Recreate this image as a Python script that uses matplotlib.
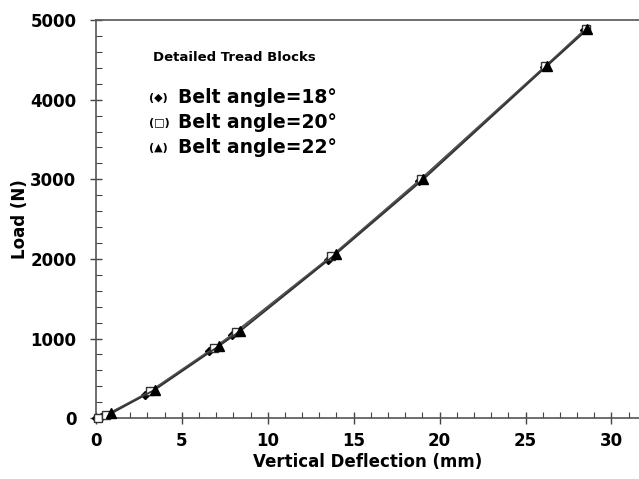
import numpy as np
import matplotlib.pyplot as plt
from matplotlib.ticker import MultipleLocator

# Vertical deflection (mm) and load (N) for each belt angle
x18 = [0.0, 0.3, 2.85, 6.6, 7.9, 13.5, 18.8, 26.1, 28.4]
y18 = [0, 10, 290, 845, 1040, 1990, 2980, 4410, 4870]
x20 = [0.1, 0.6, 3.15, 6.9, 8.15, 13.7, 18.9, 26.15, 28.5]
y20 = [5, 40, 335, 880, 1085, 2035, 3000, 4420, 4885]
x22 = [0.9, 3.45, 7.15, 8.4, 13.95, 19.05, 26.25, 28.6]
y22 = [60, 360, 905, 1095, 2060, 3000, 4425, 4885]

fig = plt.figure(figsize=(6.39, 4.79), dpi=100)
ax = fig.add_axes([0.150, 0.127, 0.850, 0.831])

ax.plot(x18, y18, color='#555555', lw=1.3, marker='D', ms=4.5, mfc='black', mec='black', clip_on=False, zorder=3)
ax.plot(x20, y20, color='#555555', lw=1.3, marker='s', ms=6, mfc='white', mec='#333333', clip_on=False, zorder=3)
ax.plot(x22, y22, color='#333333', lw=1.3, marker='^', ms=6.5, mfc='black', mec='black', clip_on=False, zorder=3)

ax.set_xlim(0, 31.6)
ax.set_ylim(0, 5000)
ax.xaxis.set_major_locator(MultipleLocator(5))
ax.xaxis.set_minor_locator(MultipleLocator(1))
ax.yaxis.set_major_locator(MultipleLocator(1000))
ax.yaxis.set_minor_locator(MultipleLocator(200))
ax.tick_params(which='major', direction='inout', length=8, width=1, color='#444444', labelsize=12)
ax.tick_params(axis='y', which='major', pad=10)
ax.tick_params(axis='x', which='major', pad=6)
ax.tick_params(which='minor', direction='in', length=4, width=0.8, color='#444444')
for lab in ax.get_xticklabels() + ax.get_yticklabels():
    lab.set_fontweight('bold')

ax.spines['right'].set_visible(False)
for s in ['left', 'bottom', 'top']:
    ax.spines[s].set_color('#555555')
    ax.spines[s].set_linewidth(1.2)

ax.set_xlabel('Vertical Deflection (mm)', fontsize=12, fontweight='bold', labelpad=2)
ax.set_ylabel('Load (N)', fontsize=12, fontweight='bold', labelpad=1)

# legend drawn as text
ax.text(0.105, 0.905, 'Detailed Tread Blocks', transform=ax.transAxes,
        fontsize=9.5, fontweight='bold', va='center')
labels = ['Belt angle=18°', 'Belt angle=20°', 'Belt angle=22°']
syms = ['(◆)', '(□)', '(▲)']
for i, (sym, lab) in enumerate(zip(syms, labels)):
    yy = 0.805 - i * 0.063
    ax.text(0.098, yy, sym, transform=ax.transAxes, fontsize=8, fontweight='bold', va='center')
    ax.text(0.152, yy, lab, transform=ax.transAxes, fontsize=13.5, fontweight='bold', va='center')

fig.savefig('out.png', dpi=100)
